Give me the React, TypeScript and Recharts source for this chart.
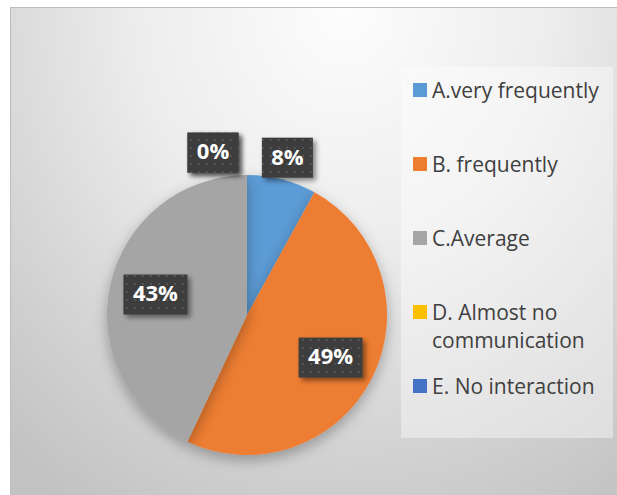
import { Legend, Pie, PieChart, Cell } from "recharts";

const CATEGORIES = ["A.very frequently", "B. frequently", "C.Average", "D. Almost no communication", "E. No interaction"];
const SHARES = [8, 49, 43, 0, 0];
const COLORS = ["#5B9BD5", "#ED7D31", "#A5A5A5", "#FFC000", "#4472C4"];

const FONT = "'Open Sans', Lato, sans-serif";
const RAD = Math.PI / 180;

const data = CATEGORIES.map((name, i) => ({ name, value: SHARES[i] }));

// Excel-style dark textured callouts: small slices go outside, big ones sit inside
function renderLabel(props: any) {
  const { cx, cy, midAngle, outerRadius, percent, index } = props;
  const pct = Math.round((percent || 0) * 100);
  const r = pct < 10 ? outerRadius * 1.16 : outerRadius * 0.67;
  let x = cx + r * Math.cos(-midAngle * RAD);
  const y = cy + r * Math.sin(-midAngle * RAD);
  if (pct === 0) x -= 34; // zero slices sit at 12 o'clock, nudge clear of the 8% box
  const text = `${pct}%`;
  const w = text.length > 2 ? 64 : 51;
  const h = 40;
  return (
    <g key={`lbl-${index}`}>
      <rect x={x - w / 2} y={y - h / 2} width={w} height={h} fill="url(#lblTexture)" filter="url(#lblShadow)" />
      <text
        x={x}
        y={y + 1}
        textAnchor="middle"
        dominantBaseline="middle"
        fill="#FFFFFF"
        fontFamily={FONT}
        fontWeight={700}
        fontSize={22}
      >
        {text}
      </text>
    </g>
  );
}

function LegendBox() {
  return (
    <div
      style={{
        width: 212,
        height: 371,
        boxSizing: "border-box",
        paddingTop: 9,
        background: "rgba(255,255,255,0.4)",
        fontFamily: FONT,
        fontSize: 21,
        color: "#404040",
      }}
    >
      {CATEGORIES.map((name, i) => (
        <div key={name} style={{ height: 74, display: "flex", alignItems: "flex-start" }}>
          <div style={{ width: 14, height: 14, marginLeft: 12, marginTop: 7, background: COLORS[i], flexShrink: 0 }} />
          <div style={{ marginLeft: 5, width: 180, lineHeight: "28px", whiteSpace: "normal" }}>{name}</div>
        </div>
      ))}
    </div>
  );
}

export default function App() {
  return (
    <div
      style={{
        position: "absolute",
        left: 10,
        top: 7,
        width: 607,
        height: 488,
        boxSizing: "border-box",
        borderTop: "1px solid #bdbdbd",
        borderLeft: "1px solid #bdbdbd",
        background: "radial-gradient(ellipse 85% 120% at 55% 0%, #fdfdfd 0%, #ededed 40%, #d3d3d3 75%, #c2c2c2 100%)",
      }}
    >
      <svg width={0} height={0} style={{ position: "absolute" }}>
        <defs>
          <pattern id="lblTexture" width={8} height={8} patternUnits="userSpaceOnUse">
            <rect width={8} height={8} fill="#3d3d3d" />
            <circle cx={4} cy={4} r={1.1} fill="#575757" />
          </pattern>
          <filter id="lblShadow" x="-30%" y="-30%" width="170%" height="180%">
            <feDropShadow dx={3} dy={3} stdDeviation={2.5} floodColor="#000" floodOpacity={0.45} />
          </filter>
          <filter id="pieShadow" x="-20%" y="-20%" width="140%" height="150%">
            <feDropShadow dx={0} dy={5} stdDeviation={7} floodColor="#000" floodOpacity={0.3} />
          </filter>
        </defs>
      </svg>
      <PieChart width={606} height={487}>
        <Pie
          data={data}
          dataKey="value"
          nameKey="name"
          cx={231}
          cy={302}
          outerRadius={140}
          startAngle={90}
          endAngle={-270}
          stroke="none"
          label={renderLabel}
          labelLine={false}
          isAnimationActive={false}
          style={{ filter: "url(#pieShadow)" }}
        >
          {data.map((d, i) => (
            <Cell key={d.name} fill={COLORS[i]} />
          ))}
        </Pie>
        <Legend
          layout="vertical"
          align="right"
          verticalAlign="top"
          content={() => <LegendBox />}
          wrapperStyle={{ left: 390, top: 59, width: 212, height: 371 }}
        />
      </PieChart>
    </div>
  );
}
